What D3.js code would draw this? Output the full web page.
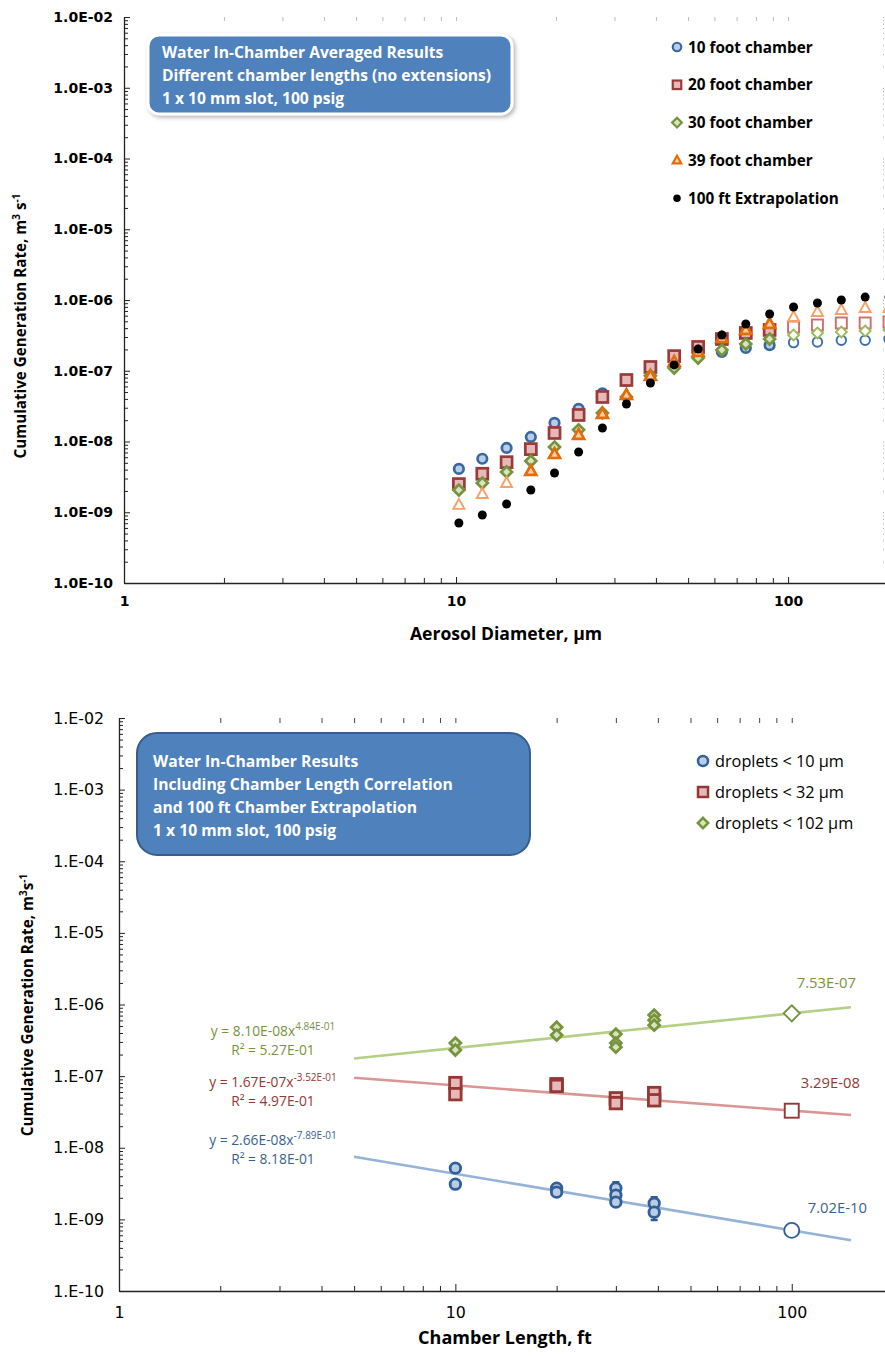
<!DOCTYPE html>
<html><head><meta charset="utf-8">
<script src="https://cdn.jsdelivr.net/npm/d3@7"></script>
<style>body{margin:0;background:#fff}svg{display:block}</style>
</head><body>
<svg id="c" width="885" height="1356"></svg>
<script>
// ---------------- DATA : top chart ----------------
const diameters = [10.2,12.0,14.2,16.8,19.8,23.4,27.6,32.6,38.5,45.4,53.6,63.2,74.6,88.0,103.9,122.6,144.7,170.7,201.4];
const rate10ft  = [4.1e-9,5.7e-9,8.1e-9,1.16e-8,1.83e-8,2.9e-8,4.8e-8,7.2e-8,1.09e-7,1.55e-7,1.73e-7,1.84e-7,2.1e-7,2.3e-7,2.5e-7,2.55e-7,2.7e-7,2.7e-7,2.8e-7];
const rate20ft  = [2.5e-9,3.5e-9,5.1e-9,7.8e-9,1.32e-8,2.37e-8,4.26e-8,7.4e-8,1.13e-7,1.61e-7,2.17e-7,2.81e-7,3.42e-7,3.77e-7,4.15e-7,4.43e-7,4.73e-7,4.73e-7,4.89e-7];
const rate30ft  = [2.06e-9,2.59e-9,3.71e-9,5.3e-9,8.36e-9,1.46e-8,2.53e-8,4.26e-8,8.5e-8,1.09e-7,1.51e-7,1.96e-7,2.39e-7,2.81e-7,3.2e-7,3.42e-7,3.53e-7,3.65e-7,3.77e-7];
const rate39ft  = [1.27e-9,1.81e-9,2.59e-9,3.83e-9,6.65e-9,1.24e-8,2.45e-8,4.54e-8,8.43e-8,1.33e-7,1.84e-7,2.9e-7,3.77e-7,4.58e-7,5.75e-7,6.77e-7,7.22e-7,7.71e-7,7.71e-7];
const rate100ft = [7.05e-10,9.14e-10,1.31e-9,2.06e-9,3.59e-9,7.11e-9,1.55e-8,3.39e-8,6.71e-8,1.21e-7,2.03e-7,3.2e-7,4.58e-7,6.34e-7,7.96e-7,9.08e-7,1.0e-6,1.1e-6,1.1e-6];
const topSeriesNames = ["10 foot chamber","20 foot chamber","30 foot chamber","39 foot chamber","100 ft Extrapolation"];
// index range of measured (filled) points per series; others drawn hollow
const filledFrom = [0,0,0,3,0];
const filledTo   = [13,13,13,13,18];
const yTickValues = [1e-10,1e-9,1e-8,1e-7,1e-6,1e-5,1e-4,1e-3,1e-2];
const yTickLabelsTop = ["1.0E-10","1.0E-09","1.0E-08","1.0E-07","1.0E-06","1.0E-05","1.0E-04","1.0E-03","1.0E-02"];
const yTickLabelsBot = ["1.E-10","1.E-09","1.E-08","1.E-07","1.E-06","1.E-05","1.E-04","1.E-03","1.E-02"];
const xTickValues = [1,10,100];
const xTickLabels = ["1","10","100"];
const topBoxLines = ["Water In-Chamber Averaged Results","Different chamber lengths (no extensions)","1 x 10 mm slot, 100 psig"];

// ---------------- DATA : bottom chart ----------------
const len10  = [10,10,20,20,30,30,30,39,39];
const rate10 = [5.19e-9,3.10e-9,2.73e-9,2.40e-9,2.73e-9,2.18e-9,1.74e-9,1.68e-9,1.26e-9];
const len32  = [10,10,20,20,30,30,39,39];
const rate32 = [8.0e-8,5.6e-8,7.7e-8,7.3e-8,4.9e-8,4.2e-8,5.8e-8,4.6e-8];
const len102  = [10,10,20,20,30,30,30,39,39,39];
const rate102 = [2.89e-7,2.31e-7,4.83e-7,3.74e-7,3.86e-7,2.89e-7,2.54e-7,7.11e-7,6.05e-7,5.15e-7];
const errLen  = [30,39];
const errLow  = [1.53e-9,9.75e-10];
const errHigh = [3.31e-9,2.04e-9];
const extrapLength = 100;
const extrapRates  = [7.02e-10,3.29e-8,7.53e-7];
const extrapLabels = ["7.02E-10","3.29E-08","7.53E-07"];
const trendCoef = [2.66e-8,1.67e-7,8.10e-8];
const trendExp  = [-0.789,-0.352,0.484];
const trendSpan = [5,150];
const eqMain = ["y = 2.66E-08x","y = 1.67E-07x","y = 8.10E-08x"];
const eqSup  = ["-7.89E-01","-3.52E-01","4.84E-01"];
const eqR2   = ["R² = 8.18E-01","R² = 4.97E-01","R² = 5.27E-01"];
const botSeriesNames = ["droplets < 10 µm","droplets < 32 µm","droplets < 102 µm"];
const botBoxLines = ["Water In-Chamber Results","Including Chamber Length Correlation","and 100 ft Chamber Extrapolation","1 x 10 mm slot, 100 psig"];

// ---------------- STYLE ----------------
const SANS = "'Open Sans', sans-serif";
const TICKF = "'DejaVu Sans', sans-serif";
const filledStyle = [
  {fill:"#B9CDE5", stroke:"#3B679F"},
  {fill:"#E6B9B8", stroke:"#9A3B38"},
  {fill:"#D7E4BD", stroke:"#77933C"},
  {fill:"#FBCFA8", stroke:"#E46C0A"},
  {fill:"#000", stroke:"#000"}];
const hollowStyle = [
  {fill:"#fff", stroke:"#3E6EAB"},
  {fill:"#fff", stroke:"#D06C6A"},
  {fill:"#fff", stroke:"#9BBB59"},
  {fill:"#fff", stroke:"#F9A062"},
  {fill:"#000", stroke:"#000"}];
const shapes = ["circle","square","diamond","triangle","dot"];
const trendColors = ["#95B3D7","#DA9694","#B5CF85"];
const textColors  = ["#3A5F93","#953735","#77933C"];

const svg = d3.select("#c");
const defs = svg.append("defs");
const flt = defs.append("filter").attr("id","sh").attr("x","-10%").attr("y","-10%").attr("width","130%").attr("height","140%");
flt.append("feDropShadow").attr("dx",2).attr("dy",2).attr("stdDeviation",2).attr("flood-color","#777").attr("flood-opacity",0.55);

function marker(g, shape, x, y, s, fill, stroke, sw){
  if(shape==="circle"||shape==="dot"){
    g.append("circle").attr("cx",x).attr("cy",y).attr("r",s/2).attr("fill",fill).attr("stroke",stroke).attr("stroke-width",sw);
  } else if(shape==="square"){
    g.append("rect").attr("x",x-s/2).attr("y",y-s/2).attr("width",s).attr("height",s).attr("fill",fill).attr("stroke",stroke).attr("stroke-width",sw);
  } else if(shape==="diamond"){
    const h=s/2*1.15;
    g.append("path").attr("d",`M${x},${y-h}L${x+h},${y}L${x},${y+h}L${x-h},${y}Z`).attr("fill",fill).attr("stroke",stroke).attr("stroke-width",sw);
  } else if(shape==="triangle"){
    const h=s*0.9;
    g.append("path").attr("d",`M${x},${y-h*0.6}L${x+s/2},${y+h*0.4}L${x-s/2},${y+h*0.4}Z`).attr("fill",fill).attr("stroke",stroke).attr("stroke-width",sw).attr("stroke-linejoin","miter");
  }
}
function minorTicks(lo, hi){
  const out=[];
  for(let e=lo;e<hi;e++) for(let k=2;k<=9;k++) out.push(k*Math.pow(10,e));
  return out;
}

// ================= TOP CHART =================
const xT = d3.scaleLog().domain([1,200]).range([124,888]);
const yT = d3.scaleLog().domain([1e-10,1e-2]).range([583,17]);
const gTop = svg.append("g");

const tTop = gTop.append("g").attr("transform","translate(0,17)")
  .call(d3.axisTop(xT).tickValues(xTickValues.concat(minorTicks(0,2))).tickFormat("").tickSize(-4));
tTop.select(".domain").remove(); tTop.selectAll("line").attr("stroke","#bbb");
const tRight = gTop.append("g").attr("transform","translate(888,0)")
  .call(d3.axisRight(yT).tickValues(yTickValues.concat(minorTicks(-10,-2))).tickFormat("").tickSize(-5));
tRight.select(".domain").remove(); tRight.selectAll("line").attr("stroke","#aaa").attr("stroke-dasharray","1,1");

const lA = gTop.append("g").attr("transform","translate(124,0)")
  .call(d3.axisLeft(yT).tickValues(yTickValues).tickFormat((d,i)=>yTickLabelsTop[i]).tickSize(-6).tickSizeOuter(0).tickPadding(11));
const lAm = gTop.append("g").attr("transform","translate(124,0)")
  .call(d3.axisLeft(yT).tickValues(minorTicks(-10,-2)).tickFormat("").tickSize(-4));
lAm.select(".domain").remove();
const bA = gTop.append("g").attr("transform","translate(0,583)")
  .call(d3.axisBottom(xT).tickValues(xTickValues).tickFormat((d,i)=>xTickLabels[i]).tickSize(-6).tickSizeOuter(0).tickPadding(13));
const bAm = gTop.append("g").attr("transform","translate(0,583)")
  .call(d3.axisBottom(xT).tickValues(minorTicks(0,2)).tickFormat("").tickSize(-5));
bAm.select(".domain").remove();
[lA,bA].forEach(a=>{a.selectAll("text").attr("font-family",TICKF).attr("font-weight","bold").attr("font-size",14).attr("fill","#000");});
gTop.selectAll(".domain").attr("stroke","#222").attr("stroke-width",1.3);
[lA,lAm,bA,bAm].forEach(a=>a.selectAll(".tick line").attr("stroke","#222"));

gTop.append("text").attr("x",506).attr("y",640).attr("text-anchor","middle")
  .attr("font-family",SANS).attr("font-weight","bold").attr("font-size",17.6).text("Aerosol Diameter, µm");
const ytT = gTop.append("text").attr("transform","translate(26,326) rotate(-90)").attr("text-anchor","middle")
  .attr("font-family",SANS).attr("font-weight","bold").attr("font-size",15.2);
ytT.append("tspan").text("Cumulative Generation Rate, m");
ytT.append("tspan").attr("dy",-6).attr("font-size",10).text("3");
ytT.append("tspan").attr("dy",6).text(" s");
ytT.append("tspan").attr("dy",-6).attr("font-size",10).text("-1");

const topSeries = [rate10ft,rate20ft,rate30ft,rate39ft,rate100ft];
const topSizes = [9.5,11,9.5,11,9];
const pts = gTop.append("g");
topSeries.forEach((ser,si)=>{
  ser.forEach((v,i)=>{
    const filled = i>=filledFrom[si] && i<=filledTo[si];
    const st = filled ? filledStyle[si] : hollowStyle[si];
    const sw = si===4 ? 0 : (filled ? 2.7 : 1.9);
    marker(pts, shapes[si], xT(diameters[i]), yT(v), topSizes[si], st.fill, st.stroke, sw);
  });
});

gTop.append("rect").attr("x",148).attr("y",35).attr("width",364).attr("height",79).attr("rx",11)
  .attr("fill","#4F81BD").attr("stroke","#fff").attr("stroke-width",3).attr("filter","url(#sh)");
topBoxLines.forEach((t,i)=>{
  gTop.append("text").attr("x",162).attr("y",57.5+i*23).attr("font-family",SANS).attr("font-weight","bold")
    .attr("font-size",15.6).attr("fill","#fff").text(t);
});

topSeriesNames.forEach((n,i)=>{
  const y = 47 + i*37.8;
  const st = filledStyle[i];
  marker(gTop, shapes[i], 677, y, i===4?7.5:8.5, st.fill, st.stroke, i===4?0:2.2);
  gTop.append("text").attr("x",688).attr("y",y+5.5).attr("font-family",SANS).attr("font-weight","bold")
    .attr("font-size",15.3).attr("fill","#000").text(n);
});

// ================= BOTTOM CHART =================
const xB = d3.scaleLog().domain([1,200]).range([119,893]);
const yB = d3.scaleLog().domain([1e-10,1e-2]).range([1291,718]);
const gBot = svg.append("g");

const bTop = gBot.append("g").attr("transform","translate(0,718)")
  .call(d3.axisTop(xB).tickValues(xTickValues.concat(minorTicks(0,2))).tickFormat("").tickSize(-5));
bTop.select(".domain").remove(); bTop.selectAll("line").attr("stroke","#444");

const lB = gBot.append("g").attr("transform","translate(119,0)")
  .call(d3.axisLeft(yB).tickValues(yTickValues).tickFormat((d,i)=>yTickLabelsBot[i]).tickSize(-6).tickSizeOuter(0).tickPadding(15));
const lBm = gBot.append("g").attr("transform","translate(119,0)")
  .call(d3.axisLeft(yB).tickValues(minorTicks(-10,-2)).tickFormat("").tickSize(-4));
lBm.select(".domain").remove();
const xBa = gBot.append("g").attr("transform","translate(0,1291)")
  .call(d3.axisBottom(xB).tickValues(xTickValues).tickFormat((d,i)=>xTickLabels[i]).tickSize(-7).tickSizeOuter(0).tickPadding(16));
const xBm = gBot.append("g").attr("transform","translate(0,1291)")
  .call(d3.axisBottom(xB).tickValues(minorTicks(0,2)).tickFormat("").tickSize(-5));
xBm.select(".domain").remove();
[lB,xBa].forEach(a=>{a.selectAll("text").attr("font-family",TICKF).attr("font-size",15.8).attr("fill","#000");});
gBot.selectAll(".domain").attr("stroke","#222").attr("stroke-width",1.3);
[lB,lBm,xBa,xBm].forEach(a=>a.selectAll(".tick line").attr("stroke","#222"));

gBot.append("text").attr("x",505).attr("y",1344).attr("text-anchor","middle")
  .attr("font-family",SANS).attr("font-weight","bold").attr("font-size",18).text("Chamber Length, ft");
const ytB = gBot.append("text").attr("transform","translate(33,1005) rotate(-90)").attr("text-anchor","middle")
  .attr("font-family",SANS).attr("font-weight","bold").attr("font-size",15.3);
ytB.append("tspan").text("Cumulative Generation Rate, m");
ytB.append("tspan").attr("dy",-6).attr("font-size",10).text("3");
ytB.append("tspan").attr("dy",6).text("s");
ytB.append("tspan").attr("dy",-6).attr("font-size",10).text("-1");

const line = d3.line().x(d=>xB(d[0])).y(d=>yB(d[1]));
trendCoef.forEach((a,i)=>{
  const b = trendExp[i];
  const p = trendSpan.map(x=>[x, a*Math.pow(x,b)]);
  gBot.append("path").attr("d",line(p)).attr("fill","none").attr("stroke",trendColors[i]).attr("stroke-width",2.6);
});

errLen.forEach((L,i)=>{
  const x=xB(L), y1=yB(errLow[i]), y2=yB(errHigh[i]);
  gBot.append("path").attr("d",`M${x},${y1}V${y2}M${x-3.5},${y1}H${x+3.5}M${x-3.5},${y2}H${x+3.5}`)
    .attr("stroke","#2F5C94").attr("stroke-width",2.2).attr("fill","none");
});

const botLens = [len10,len32,len102];
const botRates = [rate10,rate32,rate102];
const botFill = [
  {fill:"#B9CDE5", stroke:"#325F98"},
  {fill:"#E6B9B8", stroke:"#953735"},
  {fill:"#D7E4BD", stroke:"#77933C"}];
const botShapes = ["circle","square","diamond"];
const botSizes = [10.5,11.5,9.5];
botRates.forEach((ser,si)=>{
  ser.forEach((v,i)=>{
    marker(gBot, botShapes[si], xB(botLens[si][i]), yB(v), botSizes[si], botFill[si].fill, botFill[si].stroke, 2.8);
  });
});
const exSizes = [15,14,14];
extrapRates.forEach((v,i)=>{
  marker(gBot, botShapes[i], xB(extrapLength), yB(v), exSizes[i], "#fff", botFill[i].stroke, 1.9);
});
const exLabelDx = [16,9,5];
const exLabelDy = [-17,-23,-25];
extrapRates.forEach((v,i)=>{
  gBot.append("text").attr("x",xB(extrapLength)+exLabelDx[i]).attr("y",yB(v)+exLabelDy[i])
    .attr("font-family",SANS).attr("font-size",14.8).attr("fill",textColors[i]).text(extrapLabels[i]);
});

const eqY = [1140,1082,1031];
eqMain.forEach((t,i)=>{
  const tx = gBot.append("text").attr("x",273).attr("y",eqY[i]+5).attr("text-anchor","middle")
    .attr("font-family",SANS).attr("font-size",13.8).attr("fill",textColors[i]);
  tx.append("tspan").text(t);
  tx.append("tspan").attr("dy",-6).attr("font-size",10).text(eqSup[i]);
  gBot.append("text").attr("x",273).attr("y",eqY[i]+24).attr("text-anchor","middle")
    .attr("font-family",SANS).attr("font-size",13.8).attr("fill",textColors[i]).text(eqR2[i]);
});

gBot.append("rect").attr("x",137).attr("y",733).attr("width",393).attr("height",122).attr("rx",20)
  .attr("fill","#4F81BD").attr("stroke","#385D8A").attr("stroke-width",2);
botBoxLines.forEach((t,i)=>{
  gBot.append("text").attr("x",153).attr("y",766.5+i*23.3).attr("font-family",SANS).attr("font-weight","bold")
    .attr("font-size",15.7).attr("fill","#fff").text(t);
});

botSeriesNames.forEach((n,i)=>{
  const y = 761 + i*31;
  marker(gBot, botShapes[i], 703, y, i===2?9:10, botFill[i].fill, botFill[i].stroke, 2.5);
  gBot.append("text").attr("x",715).attr("y",y+5.5).attr("font-family",SANS)
    .attr("font-size",16.3).attr("fill","#000").text(n);
});
</script>
</body></html>
